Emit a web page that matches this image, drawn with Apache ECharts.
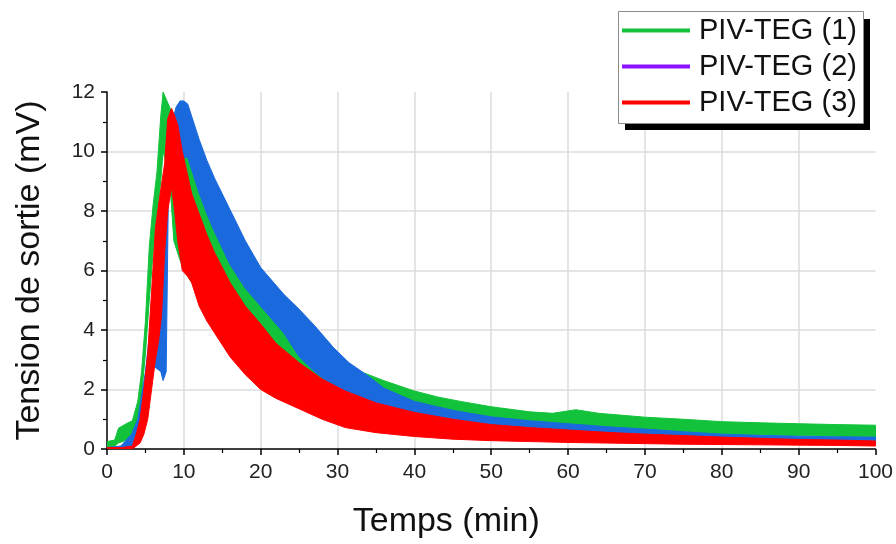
<!DOCTYPE html>
<html>
<head>
<meta charset="utf-8">
<script src="https://cdn.jsdelivr.net/npm/echarts@6/dist/echarts.min.js"></script>
<style>
  html, body { margin: 0; padding: 0; background: #fff; }
  #chart { width: 896px; height: 544px; }
</style>
</head>
<body>
<div id="chart"></div>
<script>
// noms des séries
var names = ['PIV-TEG (1)', 'PIV-TEG (2)', 'PIV-TEG (3)'];

// PIV-TEG (1) - enveloppe du signal bruité (temps en min, tension en mV)
var greenX    = [0, 1, 1.5, 2.5, 3.3, 4.0, 4.5, 5.0, 5.5, 6.0, 6.5, 7.0, 7.3, 7.8, 8.3, 8.7, 9.3, 10, 11, 12, 14, 16, 18, 20, 22, 25, 28, 30, 33, 36, 40, 43, 46, 50, 55, 58, 61, 64, 70, 75, 80, 85, 90, 95, 100];
var greenHigh = [0.25, 0.3, 0.7, 0.85, 0.95, 1.6, 2.6, 4.3, 6.8, 8.2, 9.3, 11.2, 12.0, 11.7, 11.4, 11.0, 10.6, 10.1, 9.6, 9.0, 8.0, 7.1, 6.2, 5.4, 4.6, 3.8, 3.2, 2.95, 2.6, 2.3, 1.95, 1.75, 1.6, 1.42, 1.25, 1.2, 1.32, 1.2, 1.07, 1.0, 0.92, 0.88, 0.85, 0.82, 0.8];
var greenLow  = [0.05, 0.1, 0.2, 0.3, 0.5, 1.0, 1.8, 3.2, 5.0, 6.6, 7.8, 9.0, 10.0, 9.5, 8.5, 7.0, 6.5, 6.0, 5.6, 5.2, 4.5, 4.0, 3.6, 3.4, 3.0, 2.5, 2.1, 1.9, 1.7, 1.5, 1.3, 1.15, 1.05, 0.95, 0.85, 0.8, 0.8, 0.7, 0.6, 0.55, 0.5, 0.48, 0.45, 0.43, 0.4];

// PIV-TEG (2)
var blueX    = [0, 1.8, 2.5, 3.2, 4.0, 5.0, 6.0, 7.0, 7.3, 7.7, 8.0, 8.5, 9.0, 9.5, 10.0, 10.5, 11, 12, 13, 14, 16, 18, 20, 23, 25, 27, 29.5, 31.5, 34, 36, 40, 45, 50, 55, 60, 65, 70, 75, 80, 85, 90, 95, 100];
var blueHigh = [0.05, 0.1, 0.3, 0.5, 1.0, 2.6, 5.0, 8.0, 8.6, 9.5, 10.2, 11.0, 11.5, 11.7, 11.7, 11.6, 11.2, 10.4, 9.7, 9.1, 8.05, 7.0, 6.1, 5.2, 4.7, 4.15, 3.4, 2.9, 2.45, 2.05, 1.6, 1.3, 1.08, 0.95, 0.85, 0.75, 0.67, 0.58, 0.5, 0.46, 0.43, 0.41, 0.4];
var blueLow  = [0, 0, 0.05, 0.1, 0.5, 1.5, 2.8, 2.6, 2.3, 2.6, 8.8, 9.2, 9.4, 9.6, 9.8, 9.8, 9.4, 8.6, 7.9, 7.3, 6.2, 5.4, 4.8, 3.9, 3.1, 2.6, 2.1, 1.85, 1.6, 1.45, 1.15, 0.92, 0.75, 0.65, 0.57, 0.5, 0.44, 0.38, 0.34, 0.3, 0.27, 0.24, 0.22];

// PIV-TEG (3)
var redX    = [0, 2, 3.3, 3.8, 4.3, 4.8, 5.3, 5.8, 6.3, 6.7, 7.1, 7.5, 7.9, 8.4, 8.8, 9.2, 9.8, 10.5, 11, 12, 13, 14, 16, 18, 20, 22, 25, 28, 31, 35, 40, 45, 50, 55, 60, 65, 70, 75, 80, 85, 90, 95, 100];
var redHigh = [0.05, 0.05, 0.1, 0.5, 1.0, 2.0, 3.2, 5.3, 7.4, 8.2, 8.9, 9.6, 11.1, 11.45, 11.2, 10.9, 10.0, 9.2, 8.6, 7.9, 7.2, 6.6, 5.6, 4.8, 4.2, 3.55, 2.9, 2.35, 1.95, 1.55, 1.23, 1.0, 0.82, 0.72, 0.64, 0.56, 0.5, 0.45, 0.4, 0.36, 0.32, 0.3, 0.27];
var redLow  = [0, 0, 0, 0.1, 0.2, 0.5, 1.0, 2.0, 3.0, 3.6, 4.5, 6.6, 8.0, 8.8, 8.0, 7.0, 6.0, 5.8, 5.6, 4.8, 4.3, 3.9, 3.1, 2.5, 2.0, 1.7, 1.35, 1.0, 0.72, 0.55, 0.42, 0.33, 0.28, 0.25, 0.22, 0.2, 0.18, 0.16, 0.15, 0.14, 0.13, 0.12, 0.1];

var colors = ['#12c23a', '#1a6ade', '#ff0000'];
var legendColors = ['#12c23a', '#8a10ff', '#ff0000'];

// une bande (min/max du bruit) dessinée comme polygone via les axes
function bandSeries(name, color, xs, lo, hi) {
	return {
		name: name,
		type: 'custom',
		clip: true,
		itemStyle: { color: color },
		data: xs.map(function (x, i) { return [x, lo[i], hi[i]]; }),
		encode: { x: 0, y: [1, 2] },
		renderItem: function (params, api) {
			if (params.dataIndex !== 0) return;
			var pts = [];
			for (var i = 0; i < xs.length; i++) pts.push(api.coord([xs[i], hi[i]]));
			for (var j = xs.length - 1; j >= 0; j--) pts.push(api.coord([xs[j], lo[j]]));
			return {
				type: 'polygon',
				shape: { points: pts },
				style: { fill: color, stroke: color, lineWidth: 1 }
			};
		}
	};
}

var myChart = echarts.init(document.getElementById('chart'));
var font = 'Liberation Sans, Arial, sans-serif';

var option = {
	animation: false,
	grid: { left: 107, right: 20, top: 92, bottom: 94 },
	// cadre de la légende avec ombre portée noire
	graphic: [
		{ type: 'rect', left: 625, top: 19, z: 1, shape: { width: 245, height: 111 }, style: { fill: '#000' } },
		{ type: 'rect', left: 618, top: 11, z: 2, shape: { width: 245, height: 112 }, style: { fill: '#fff', stroke: '#8c8c8c', lineWidth: 1 } }
	],
	legend: {
		orient: 'vertical',
		left: 618,
		top: 11,
		z: 10,
		padding: [4, 10, 7, 4],
		itemGap: 5,
		itemWidth: 68,
		itemHeight: 4,
		icon: 'rect',
		selectedMode: false,
		textStyle: { fontFamily: font, fontSize: 29, lineHeight: 31, color: '#111', padding: [0, 0, 0, 4] },
		data: names.map(function (n, i) { return { name: n, itemStyle: { color: legendColors[i] } }; })
	},
	xAxis: {
		type: 'value',
		min: 0,
		max: 100,
		interval: 10,
		name: 'Temps (min)',
		nameLocation: 'middle',
		nameGap: 56,
		nameTextStyle: { fontFamily: font, fontSize: 34, color: '#111', padding: [0, 90, 0, 0] },
		axisLine: { lineStyle: { color: '#000', width: 1.5 } },
		axisTick: { length: 6, lineStyle: { color: '#000', width: 1.5 } },
		minorTick: { show: true, splitNumber: 2, length: 4, lineStyle: { color: '#000', width: 1.2 } },
		axisLabel: { fontFamily: font, fontSize: 21, color: '#222', margin: 13 },
		splitLine: { show: true, showMinLine: false, showMaxLine: false, lineStyle: { color: '#dcdcdc', width: 1.5 } }
	},
	yAxis: {
		type: 'value',
		min: 0,
		max: 12,
		interval: 2,
		name: 'Tension de sortie (mV)',
		nameLocation: 'middle',
		nameGap: 60,
		nameTextStyle: { fontFamily: font, fontSize: 34, color: '#111' },
		axisLine: { show: true, lineStyle: { color: '#000', width: 1.5 } },
		axisTick: { show: true, length: 6, lineStyle: { color: '#000', width: 1.5 } },
		minorTick: { show: true, splitNumber: 2, length: 4, lineStyle: { color: '#000', width: 1.2 } },
		axisLabel: { fontFamily: font, fontSize: 21, color: '#222', margin: 12 },
		splitLine: { show: true, showMinLine: false, showMaxLine: false, lineStyle: { color: '#dcdcdc', width: 1.5 } }
	},
	series: [
		bandSeries(names[0], colors[0], greenX, greenLow, greenHigh),
		bandSeries(names[1], colors[1], blueX, blueLow, blueHigh),
		bandSeries(names[2], colors[2], redX, redLow, redHigh)
	]
};

myChart.setOption(option);
</script>
</body>
</html>
